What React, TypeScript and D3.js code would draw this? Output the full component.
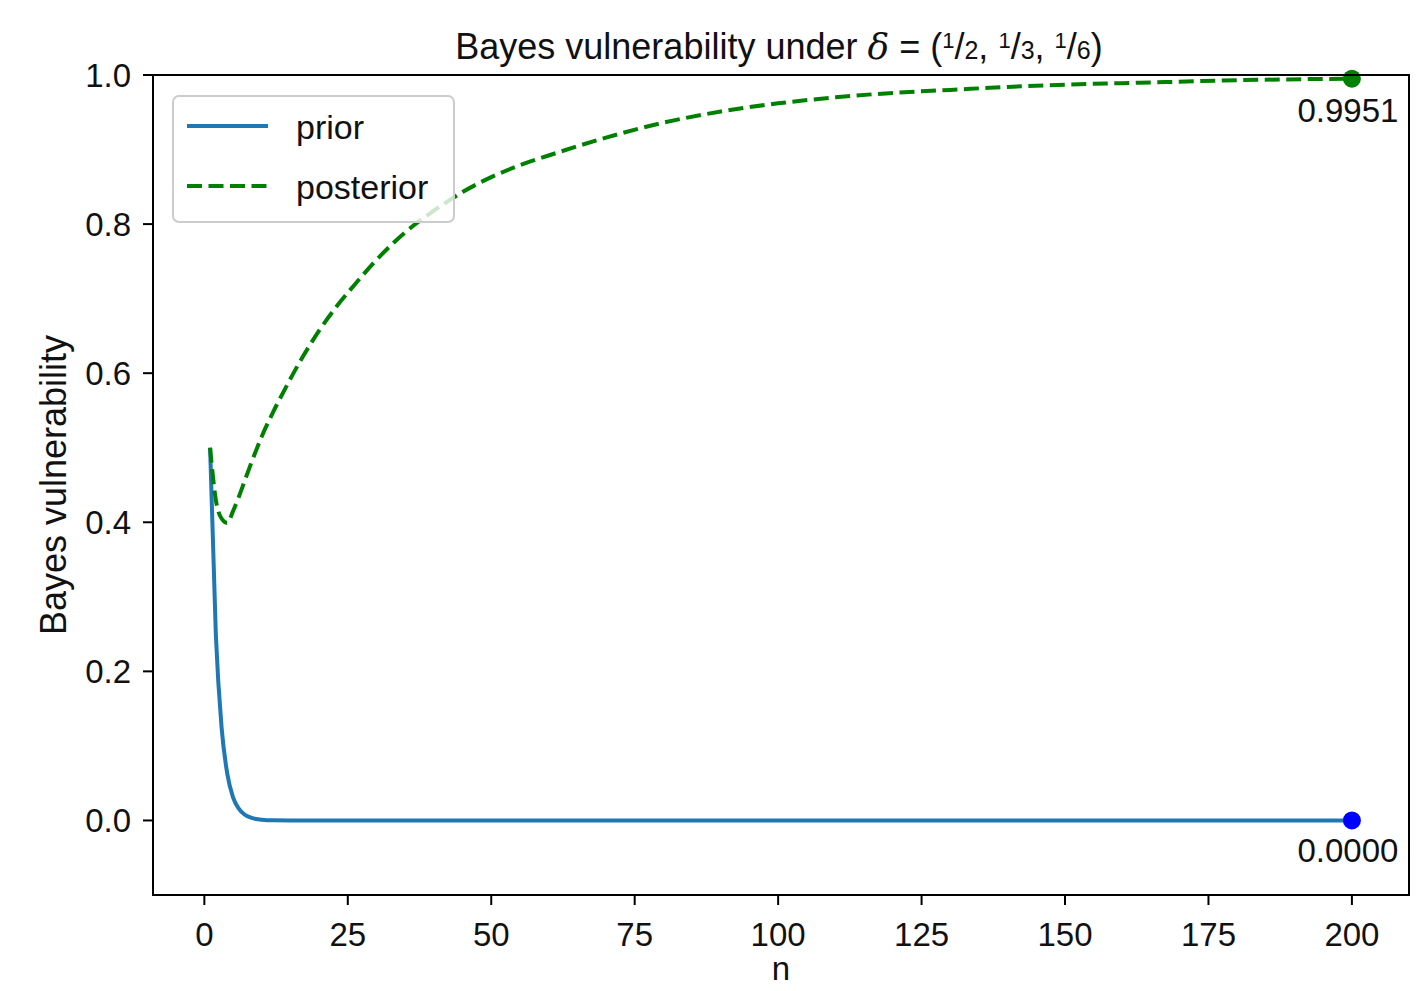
import * as d3 from 'd3';
import React from 'react';

const priorN = [1, 2, 3, 4, 5, 6, 7, 8, 9, 10, 12, 15, 200];
const priorV = [0.5, 0.25, 0.125, 0.0625, 0.031, 0.016, 0.008, 0.004, 0.002, 0.001, 0.0002, 0, 0];

const postN = [1, 2, 3, 4, 5, 6, 7, 8, 9, 10, 12, 14, 17, 20, 23, 26, 30, 35, 40, 45, 50, 55, 60, 70, 80, 90, 100, 110, 120, 130, 140, 150, 165, 180, 200];
const postV = [0.5, 0.43, 0.405, 0.399, 0.415, 0.434, 0.455, 0.476, 0.496, 0.515, 0.548, 0.578, 0.62, 0.657, 0.689, 0.717, 0.752, 0.789, 0.818, 0.843, 0.863, 0.879, 0.892, 0.916, 0.936, 0.951, 0.962, 0.97, 0.976, 0.98, 0.984, 0.987, 0.99, 0.993, 0.9951];

const xTicks = [0, 25, 50, 75, 100, 125, 150, 175, 200];
const yTicks = [0.0, 0.2, 0.4, 0.6, 0.8, 1.0];

const seriesNames = ['prior', 'posterior'];

const W = 1419, H = 991;
const left = 153, right = 1409, top = 75, bottom = 895;
const FONT = '"Liberation Sans", Arial, sans-serif';

export default function App() {
  const x = d3.scaleLinear().domain([-8.95, 209.95]).range([left, right]);
  const y = d3.scaleLinear().domain([-0.1, 1.0]).range([bottom, top]);

  const line = d3.line<[number, number]>()
    .x(d => x(d[0]))
    .y(d => y(d[1]))
    .curve(d3.curveMonotoneX);
  const smooth = d3.line<[number, number]>()
    .x(d => x(d[0]))
    .y(d => y(d[1]))
    .curve(d3.curveMonotoneX);

  const prior = priorN.map((n, i) => [n, priorV[i]] as [number, number]);
  const post = postN.map((n, i) => [n, postV[i]] as [number, number]);
  const lastPrior = prior[prior.length - 1];
  const lastPost = post[post.length - 1];
  const fmt = d3.format('.4f');
  const tf = d3.format('.1f');

  const blue = '#1f77b4';
  const green = '#008000';

  return (
    <svg width={W} height={H} style={{ position: 'absolute', left: 0, top: 0, background: '#fff' }}
      fontFamily={FONT}>
      <rect x={0} y={0} width={W} height={H} fill="#fff" />
      <defs>
        <clipPath id="plot">
          <rect x={left} y={top} width={right - left} height={bottom - top} />
        </clipPath>
      </defs>

      <g clipPath="url(#plot)">
        <path d={line(prior) || ''} fill="none" stroke={blue} strokeWidth={4} strokeLinejoin="round" />
        <path d={smooth(post) || ''} fill="none" stroke={green} strokeWidth={4} strokeDasharray="15,6.5" />
      </g>

      {/* end markers */}
      <circle cx={x(lastPost[0])} cy={y(lastPost[1])} r={9} fill={green} />
      <circle cx={x(lastPrior[0])} cy={y(lastPrior[1])} r={9} fill="#0000ff" />
      <text x={x(lastPost[0]) - 4} y={y(lastPost[1]) + 43} fontSize={33} textAnchor="middle" fill="#111">{fmt(lastPost[1])}</text>
      <text x={x(lastPrior[0]) - 4} y={y(lastPrior[1]) + 42} fontSize={33} textAnchor="middle" fill="#111">{fmt(lastPrior[1])}</text>

      {/* frame */}
      <rect x={left} y={top} width={right - left} height={bottom - top} fill="none" stroke="#000" strokeWidth={2} />

      {/* x axis */}
      {xTicks.map(t => (
        <g key={'x' + t}>
          <line x1={x(t)} x2={x(t)} y1={bottom} y2={bottom + 10} stroke="#000" strokeWidth={2} />
          <text x={x(t)} y={bottom + 51} fontSize={33} textAnchor="middle" fill="#111">{t}</text>
        </g>
      ))}
      <text x={(left + right) / 2} y={980} fontSize={33} textAnchor="middle" fill="#111">n</text>

      {/* y axis */}
      {yTicks.map(t => (
        <g key={'y' + t}>
          <line x1={left - 10} x2={left} y1={y(t)} y2={y(t)} stroke="#000" strokeWidth={2} />
          <text x={left - 22} y={y(t) + 12} fontSize={33} textAnchor="end" fill="#111">{tf(t)}</text>
        </g>
      ))}
      <text transform={`translate(66,${(top + bottom) / 2}) rotate(-90)`} fontSize={36} textAnchor="middle" fill="#111">
        Bayes vulnerability
      </text>

      {/* title */}
      <text x={(left + right) / 2 - 2} y={59} fontSize={36} textAnchor="middle" fill="#111">
        <tspan>Bayes vulnerability under </tspan>
        <tspan fontFamily='"DejaVu Serif", serif' fontStyle="italic">δ</tspan>
        <tspan> = (</tspan>
        <tspan fontSize={22} dy={-11}>1</tspan>
        <tspan dy={11}>/</tspan>
        <tspan fontSize={25}>2</tspan>
        <tspan>, </tspan>
        <tspan fontSize={22} dy={-11}>1</tspan>
        <tspan dy={11}>/</tspan>
        <tspan fontSize={25}>3</tspan>
        <tspan>, </tspan>
        <tspan fontSize={22} dy={-11}>1</tspan>
        <tspan dy={11}>/</tspan>
        <tspan fontSize={25}>6</tspan>
        <tspan>)</tspan>
      </text>

      {/* legend */}
      <g>
        <rect x={173} y={96} width={281} height={126} rx={6} fill="rgba(255,255,255,0.8)" stroke="#cccccc" strokeWidth={2} />
        <line x1={187} x2={268} y1={126} y2={126} stroke={blue} strokeWidth={4} />
        <line x1={187} x2={268} y1={186} y2={186} stroke={green} strokeWidth={4} strokeDasharray="15,6.5" />
        <text x={296} y={139} fontSize={34} fill="#111">{seriesNames[0]}</text>
        <text x={296} y={199} fontSize={34} fill="#111">{seriesNames[1]}</text>
      </g>
    </svg>
  );
}
